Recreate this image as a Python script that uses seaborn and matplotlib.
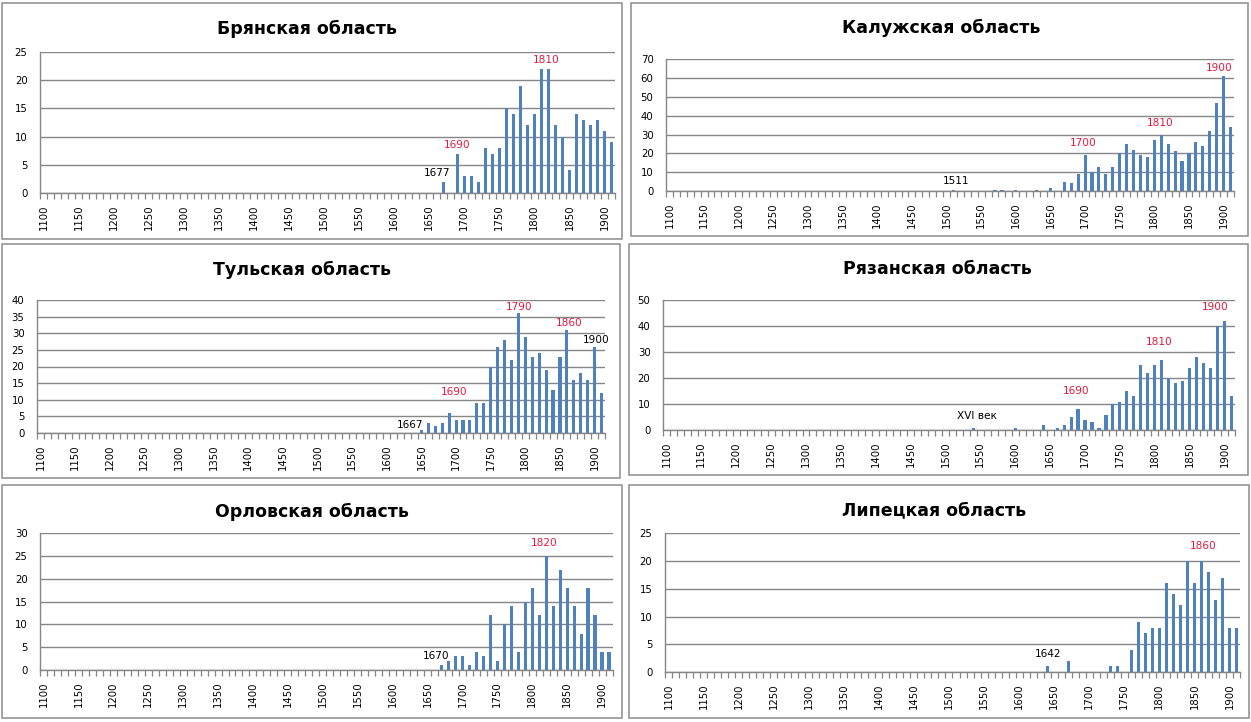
import matplotlib
matplotlib.use("Agg")
import matplotlib.pyplot as plt
from matplotlib.patches import Rectangle
import seaborn as sns
import pandas as pd

sns.set_theme(style="white")
plt.rcParams['font.family'] = ['DejaVu Sans']

# ---------------- data ----------------
decades = list(range(1100, 1911, 10))
tick_years = list(range(1100, 1901, 50))

bryansk_years = [1670, 1690, 1700, 1710, 1720, 1730, 1740, 1750, 1760, 1770, 1780, 1790,
                 1800, 1810, 1820, 1830, 1840, 1850, 1860, 1870, 1880, 1890, 1900, 1910]
bryansk_counts = [2, 7, 3, 3, 2, 8, 7, 8, 15, 14, 19, 12,
                  14, 22, 22, 12, 10, 4, 14, 13, 12, 13, 11, 9]

kaluga_years = [1510, 1570, 1580, 1600, 1630, 1650, 1670, 1680, 1690, 1700, 1710, 1720,
                1730, 1740, 1750, 1760, 1770, 1780, 1790, 1800, 1810, 1820, 1830, 1840,
                1850, 1860, 1870, 1880, 1890, 1900, 1910]
kaluga_counts = [0.5, 0.7, 0.7, 0.5, 0.5, 1.5, 5, 4, 9, 19, 10, 13,
                 9, 13, 20, 25, 22, 19, 18, 27, 30, 25, 21, 16,
                 20, 26, 24, 32, 47, 61, 34]

tula_years = [1650, 1660, 1670, 1680, 1690, 1700, 1710, 1720, 1730, 1740, 1750, 1760,
              1770, 1780, 1790, 1800, 1810, 1820, 1830, 1840, 1850, 1860, 1870, 1880,
              1890, 1900, 1910]
tula_counts = [1, 3, 2, 3, 6, 4, 4, 4, 9, 9, 20, 26,
               28, 22, 36, 29, 23, 24, 19, 13, 23, 31, 16, 18,
               16, 26, 12]

ryazan_years = [1540, 1600, 1640, 1660, 1670, 1680, 1690, 1700, 1710, 1720, 1730, 1740,
                1750, 1760, 1770, 1780, 1790, 1800, 1810, 1820, 1830, 1840, 1850, 1860,
                1870, 1880, 1890, 1900, 1910]
ryazan_counts = [1, 1, 2, 1, 2, 5, 8, 4, 3, 1, 6, 10,
                 11, 15, 13, 25, 22, 25, 27, 20, 18, 19, 24, 28,
                 26, 24, 40, 42, 13]

oryol_years = [1670, 1680, 1690, 1700, 1710, 1720, 1730, 1740, 1750, 1760, 1770, 1780,
               1790, 1800, 1810, 1820, 1830, 1840, 1850, 1860, 1870, 1880, 1890, 1900, 1910]
oryol_counts = [1, 2, 3, 3, 1, 4, 3, 12, 2, 10, 14, 4,
                15, 18, 12, 25, 14, 22, 18, 14, 8, 18, 12, 4, 4]

lipetsk_years = [1640, 1670, 1730, 1740, 1760, 1770, 1780, 1790, 1800, 1810, 1820, 1830,
                 1840, 1850, 1860, 1870, 1880, 1890, 1900, 1910]
lipetsk_counts = [1, 2, 1, 1, 4, 9, 7, 8, 8, 16, 14, 12,
                  20, 16, 20, 18, 13, 17, 8, 8]

titles = ["Брянская область", "Калужская область", "Тульская область",
          "Рязанская область", "Орловская область", "Липецкая область"]

# ---------------- layout (pixels) ----------------
W, H = 1251, 722
RED = "#E8173C"
BLUE = "#4F81BD"
GRID = "#868686"

panels = [
    dict(years=bryansk_years, counts=bryansk_counts, title=titles[0],
         box=(2, 3, 622, 239), plot=(40, 52, 615, 193), ymax=25, ystep=5, title_xy=(307, 29),
         notes=[("1677", 1661, 3.5, "black"), ("1690", 1690, 8.5, RED), ("1810", 1817, 23.6, RED)]),
    dict(years=kaluga_years, counts=kaluga_counts, title=titles[1],
         box=(631, 3, 1248, 236), plot=(666, 59.3, 1234, 191), ymax=70, ystep=10, title_xy=(941, 28),
         notes=[("1511", 1514, 5.3, "black"), ("1700", 1697, 25.6, RED),
                ("1810", 1808, 36, RED), ("1900", 1894, 65.4, RED)]),
    dict(years=tula_years, counts=tula_counts, title=titles[2],
         box=(2, 244, 620, 478), plot=(37, 300, 605, 433), ymax=40, ystep=5, title_xy=(302, 270),
         notes=[("1667", 1633, 2.4, "black"), ("1690", 1697, 12.4, RED),
                ("1790", 1791, 38, RED), ("1860", 1863, 33.2, RED), ("1900", 1903, 28, "black")]),
    dict(years=ryazan_years, counts=ryazan_counts, title=titles[3],
         box=(629, 244, 1248, 475), plot=(663, 300, 1235, 430.3), ymax=50, ystep=10, title_xy=(937, 269),
         notes=[("XVI век", 1545, 5.6, "black"), ("1690", 1687, 15.1, RED),
                ("1810", 1806, 34, RED), ("1900", 1887, 47.2, RED)]),
    dict(years=oryol_years, counts=oryol_counts, title=titles[4],
         box=(2, 485, 622, 718), plot=(40, 533.3, 612.5, 670), ymax=30, ystep=5, title_xy=(312, 512),
         notes=[("1670", 1662, 3.1, "black"), ("1820", 1817, 27.9, RED)]),
    dict(years=lipetsk_years, counts=lipetsk_counts, title=titles[5],
         box=(629, 485, 1249, 718), plot=(665, 533.3, 1240, 672), ymax=25, ystep=5, title_xy=(934, 510),
         notes=[("1642", 1641, 3.2, "black"), ("1860", 1862, 22.8, RED)]),
]

fig = plt.figure(figsize=(W / 100, H / 100), dpi=100)
fig.patch.set_facecolor("white")

def fx(px):
    return px / W

def fy(py):
    return 1 - py / H

for p in panels:
    x0, y0, x1, y1 = p["box"]
    fig.add_artist(Rectangle((fx(x0), fy(y1)), fx(x1 - x0), (y1 - y0) / H,
                             transform=fig.transFigure, fill=False,
                             edgecolor="#8C8C8C", linewidth=1.1))
    fig.text(fx(p["title_xy"][0]), fy(p["title_xy"][1]), p["title"],
             ha="center", va="center", fontsize=12.5, fontweight="bold", color="black")

    px0, py0, px1, py1 = p["plot"]
    ax = fig.add_axes([fx(px0), fy(py1), fx(px1 - px0), (py1 - py0) / H])

    lookup = dict(zip(p["years"], p["counts"]))
    df = pd.DataFrame({"decade": [str(d) for d in decades],
                       "count": [lookup.get(d, 0) for d in decades]})
    sns.barplot(data=df, x="decade", y="count", order=[str(d) for d in decades],
                color=BLUE, saturation=1, width=0.45, ax=ax, errorbar=None,
                linewidth=0, edgecolor=BLUE)
    for bar in ax.patches:
        bar.set_zorder(3)
        bar.set_linewidth(0)

    ax.set_xlim(-0.5, len(decades) - 0.5)
    ax.set_ylim(0, p["ymax"])
    ax.set_xlabel("")
    ax.set_ylabel("")
    ax.set_facecolor("white")

    ax.set_yticks(range(0, p["ymax"] + 1, p["ystep"]))
    ax.yaxis.grid(True, color=GRID, linewidth=1.0, zorder=0)
    ax.xaxis.grid(False)
    ax.set_axisbelow(True)
    ax.tick_params(axis="y", length=0, pad=9, labelsize=7.3, colors="black")

    ax.set_xticks([decades.index(t) for t in tick_years])
    ax.set_xticklabels([str(t) for t in tick_years], rotation=90)
    ax.set_xticks([i - 0.5 for i in range(len(decades) + 1)], minor=True)
    ax.tick_params(axis="x", which="major", length=0, pad=8, labelsize=7.3, colors="black")
    ax.tick_params(axis="x", which="minor", length=4, width=0.9, color=GRID, bottom=True)

    for side in ("top", "right"):
        ax.spines[side].set_visible(False)
    for side in ("left", "bottom"):
        ax.spines[side].set_color(GRID)
        ax.spines[side].set_linewidth(1.0)
        ax.spines[side].set_zorder(4)

    for txt, yr, yv, col in p["notes"]:
        ax.text((yr - decades[0]) / 10, yv, txt, color=col, fontsize=7.6,
                ha="center", va="center", clip_on=False, zorder=5)

fig.savefig("out.png", dpi=100, facecolor="white")
